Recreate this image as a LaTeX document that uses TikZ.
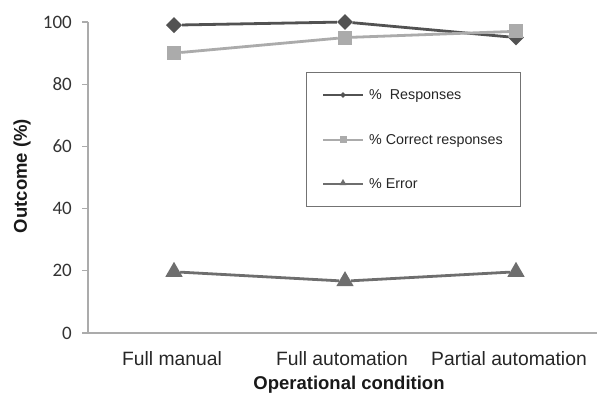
\documentclass[tikz,border=0pt]{standalone}
\usepackage{fontspec}
\setmainfont{Liberation Sans}
\newfontfamily\tickfont{Carlito}
\usetikzlibrary{shapes.geometric, calc}

\begin{document}
\begin{tikzpicture}[x=1pt, y=1pt,
  axis/.style={draw=black!33, line width=1.1pt},
  ytick/.style={draw=black!33, line width=1.1pt},
  ticklbl/.style={font=\tickfont\fontsize{19}{19}\selectfont, text=black!80, anchor=east, inner sep=0pt},
  catlbl/.style={font=\fontsize{19.3}{20}\selectfont, text=black!85, anchor=base, inner sep=0pt},
  title/.style={font=\bfseries\fontsize{18.5}{20}\selectfont, text=black!90, inner sep=0pt},
  resp/.style={draw=black!68, line width=2.8pt},
  corr/.style={draw=black!33, line width=2.8pt},
  err/.style={draw=black!57, line width=2.8pt},
  dmark/.style={diamond, fill=black!68, inner sep=0pt, minimum size=16pt},
  smark/.style={rectangle, fill=black!33, inner sep=0pt, minimum size=14pt},
  tmark/.style={regular polygon, regular polygon sides=3, fill=black!57, inner sep=0pt, minimum size=20pt},
  legbox/.style={draw=black!55, line width=0.9pt, fill=white},
  leglbl/.style={font=\fontsize{14.3}{15}\selectfont, text=black!85, anchor=base west, inner sep=0pt},
]
\useasboundingbox (0,0) rectangle (597,397);

% Axes
\coordinate (o) at (88,64);
\coordinate (ytop) at (88,375);
\coordinate (xend) at (597,64);
\draw[axis] (ytop) -- (o) -- (xend);

% Y ticks and labels
\foreach \v in {0,20,...,100} {
  \coordinate (t\v) at (88,{64+3.11*\v});
  \draw[ytick] (t\v) -- ++(-6,0);
  \node[ticklbl] (l\v) at ({72},{64+3.11*\v}) {\v};
}

% Category labels
\foreach \x/\n [count=\i] in {172/Full manual, 342/Full automation, 509/Partial automation}
  \node[catlbl] (c\i) at (\x,32) {\n};

% Axis titles
\node[title] (xt) at (349,12) {Operational condition};
\node[title, rotate=90] (yt) at (22,221) {Outcome (\%)};

% % Responses
\foreach \v [count=\i] in {99,100,95}
  \node[dmark] (r\i) at ({3+171*\i},{64+3.11*\v}) {};
\draw[resp] (r1) -- (r2) -- (r3);

% % Correct responses
\foreach \v [count=\i] in {90,95,97}
  \node[smark] (s\i) at ({3+171*\i},{64+3.11*\v}) {};
\draw[corr] (s1) -- (s2) -- (s3);

% % Error
\foreach \v [count=\i] in {20,17,20}
  \node[tmark] (e\i) at ({3+171*\i},{64+3.11*\v-1}) {};
\draw[err] (e1) -- (e2) -- (e3);

% Legend
\node[legbox, minimum width=214pt, minimum height=134pt, anchor=north west] (leg) at (306,325) {};
\coordinate (a1) at (323,302); \coordinate (b1) at (363,302);
\coordinate (a2) at (323,257); \coordinate (b2) at (363,257);
\coordinate (a3) at (323,213); \coordinate (b3) at (363,213);
\draw[resp, line width=2.4pt] (a1) -- (b1);
\draw[corr, line width=2.4pt] (a2) -- (b2);
\draw[err, line width=2.4pt] (a3) -- (b3);
\node[dmark, minimum size=6pt] (m1) at ($(a1)!0.5!(b1)$) {};
\node[smark, minimum size=7pt] (m2) at ($(a2)!0.5!(b2)$) {};
\node[tmark, minimum size=8pt] (m3) at ($(a3)!0.5!(b3)+(0,1)$) {};
\node[leglbl] (n1) at (369,297) {\%\ \ Responses};
\node[leglbl] (n2) at (369,252) {\% Correct responses};
\node[leglbl] (n3) at (369,208) {\% Error};

\end{tikzpicture}
\end{document}
